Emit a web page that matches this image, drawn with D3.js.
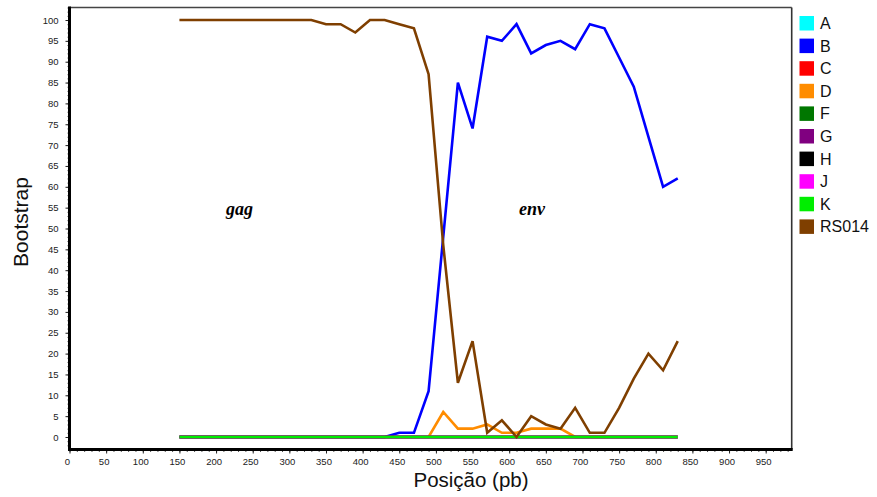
<!DOCTYPE html>
<html>
<head>
<meta charset="utf-8">
<script src="https://cdn.jsdelivr.net/npm/d3@7"></script>
<style>
  html, body { margin: 0; padding: 0; background: #fff; }
  svg { display: block; }
  text { font-family: "Liberation Sans", Arial, sans-serif; }
</style>
</head>
<body>
<svg id="chart" width="877" height="497"></svg>
<script>
// ---- data ----
const positions = [150,170,190,210,230,250,270,290,310,330,350,370,390,410,430,450,470,490,510,530,550,570,590,610,630,650,670,690,710,730,750,770,790,810,830];
const seriesNames = ["A","B","C","D","F","G","H","J","K","RS014"];
const seriesColors = ["#00ffff","#0000ff","#ff0000","#ff8c00","#007700","#800080","#000000","#ff00ff","#00ee00","#7f3f00"];
const valuesA = [0,0,0,0,0,0,0,0,0,0,0,0,0,0,0,0,0,0,0,0,0,0,0,0,0,0,0,0,0,0,0,0,0,0,0];
const valuesB = [0,0,0,0,0,0,0,0,0,0,0,0,0,0,0,1,1,11,48,85,74,96,95,99,92,94,95,93,99,98,91,84,72,60,62];
const valuesC = [0,0,0,0,0,0,0,0,0,0,0,0,0,0,0,0,0,0,0,0,0,0,0,0,0,0,0,0,0,0,0,0,0,0,0];
const valuesD = [0,0,0,0,0,0,0,0,0,0,0,0,0,0,0,0,0,0,6,2,2,3,1,1,2,2,2,0,0,0,0,0,0,0,0];
const valuesF = [0,0,0,0,0,0,0,0,0,0,0,0,0,0,0,0,0,0,0,0,0,0,0,0,0,0,0,0,0,0,0,0,0,0,0];
const valuesG = [0,0,0,0,0,0,0,0,0,0,0,0,0,0,0,0,0,0,0,0,0,0,0,0,0,0,0,0,0,0,0,0,0,0,0];
const valuesH = [0,0,0,0,0,0,0,0,0,0,0,0,0,0,0,0,0,0,0,0,0,0,0,0,0,0,0,0,0,0,0,0,0,0,0];
const valuesJ = [0,0,0,0,0,0,0,0,0,0,0,0,0,0,0,0,0,0,0,0,0,0,0,0,0,0,0,0,0,0,0,0,0,0,0];
const valuesK = [0,0,0,0,0,0,0,0,0,0,0,0,0,0,0,0,0,0,0,0,0,0,0,0,0,0,0,0,0,0,0,0,0,0,0];
const valuesRS014 = [100,100,100,100,100,100,100,100,100,100,99,99,97,100,100,99,98,87,46,13,23,1,4,0,5,3,2,7,1,1,7,14,20,16,23];
const xTickLabels = [0,50,100,150,200,250,300,350,400,450,500,550,600,650,700,750,800,850,900,950];
const yTickLabels = [0,5,10,15,20,25,30,35,40,45,50,55,60,65,70,75,80,85,90,95,100];
const regionLabels = [{text:"gag", pos:232, val:53.3}, {text:"env", pos:631, val:53.3}];

const allValues = [valuesA,valuesB,valuesC,valuesD,valuesF,valuesG,valuesH,valuesJ,valuesK,valuesRS014];

// ---- layout ----
const svg = d3.select("#chart");
const pLeft = 69.5, pRight = 791.7, pTop = 7.5, pBottom = 449.5;
const x = d3.scaleLinear().domain([0, 985.5]).range([pLeft, pRight]);
const y = d3.scaleLinear().domain([-3, 103]).range([pBottom, pTop]);

// frame: top & right thin
svg.append("line").attr("x1", pLeft).attr("x2", pRight).attr("y1", pTop).attr("y2", pTop)
  .attr("stroke", "#444").attr("stroke-width", 1.6);
svg.append("line").attr("x1", pRight).attr("x2", pRight).attr("y1", pTop).attr("y2", pBottom)
  .attr("stroke", "#333").attr("stroke-width", 1.6);

// y axis
const yMinor = svg.append("g").attr("transform", `translate(${pLeft},0)`)
  .call(d3.axisLeft(y).tickValues(d3.range(-2, 104, 1)).tickSize(2).tickFormat(""));
yMinor.select(".domain").remove();
yMinor.selectAll("line").attr("stroke", "#555");
const yAxis = svg.append("g").attr("transform", `translate(${pLeft},0)`)
  .call(d3.axisLeft(y).tickValues(yTickLabels).tickSize(4).tickPadding(7));
yAxis.select(".domain").remove();
yAxis.selectAll("line").attr("stroke", "#222");
yAxis.selectAll("text").attr("font-size", "9.5px").attr("fill", "#222")
  .style("font-family", "'Liberation Sans', Arial, sans-serif");

// x axis
const xMinor = svg.append("g").attr("transform", `translate(0,${pBottom})`)
  .call(d3.axisBottom(x).tickValues(d3.range(0, 990, 10)).tickSize(2.5).tickFormat(""));
xMinor.select(".domain").remove();
xMinor.selectAll("line").attr("stroke", "#555");
const xAxis = svg.append("g").attr("transform", `translate(0,${pBottom})`)
  .call(d3.axisBottom(x).tickValues(xTickLabels).tickSize(4).tickPadding(5));
xAxis.select(".domain").remove();
xAxis.selectAll("line").attr("stroke", "#222");
xAxis.selectAll("text").attr("font-size", "9.5px").attr("fill", "#222").attr("dx", "-2.5")
  .style("font-family", "'Liberation Sans', Arial, sans-serif");

// axis lines (thick)
svg.append("line").attr("x1", pLeft).attr("x2", pLeft).attr("y1", pTop - 1).attr("y2", pBottom + 1.5)
  .attr("stroke", "#000").attr("stroke-width", 3);
svg.append("line").attr("x1", pLeft - 1.5).attr("x2", pRight + 1).attr("y1", pBottom).attr("y2", pBottom)
  .attr("stroke", "#000").attr("stroke-width", 3);

// series lines
const line = d3.line().x((d, i) => x(positions[i])).y(d => y(d));
allValues.forEach((vals, k) => {
  svg.append("path").datum(vals).attr("d", line)
    .attr("fill", "none").attr("stroke", seriesColors[k])
    .attr("stroke-width", 2.6).attr("stroke-linejoin", "miter");
});

// region labels
regionLabels.forEach(r => {
  svg.append("text").attr("x", x(r.pos)).attr("y", y(r.val))
    .attr("text-anchor", "middle")
    .style("font-family", "'Liberation Serif', 'Times New Roman', serif")
    .attr("font-size", "18px").attr("font-weight", "bold").attr("font-style", "italic")
    .text(r.text);
});

// axis titles
svg.append("text").attr("x", 471).attr("y", 487).attr("text-anchor", "middle")
  .attr("font-size", "20.5px").attr("fill", "#111").text("Posição (pb)");
svg.append("text").attr("transform", "translate(28,222) rotate(-90)").attr("text-anchor", "middle")
  .attr("font-size", "21px").attr("fill", "#111").text("Bootstrap");

// legend
const legend = svg.append("g");
seriesNames.forEach((name, i) => {
  const yy = 16 + i * 22.6;
  legend.append("rect").attr("x", 799.5).attr("y", yy).attr("width", 14.5).attr("height", 14.5)
    .attr("fill", seriesColors[i]);
  legend.append("text").attr("x", 820).attr("y", yy + 13).attr("font-size", "16px")
    .attr("fill", "#111").text(name);
});
</script>
</body>
</html>
